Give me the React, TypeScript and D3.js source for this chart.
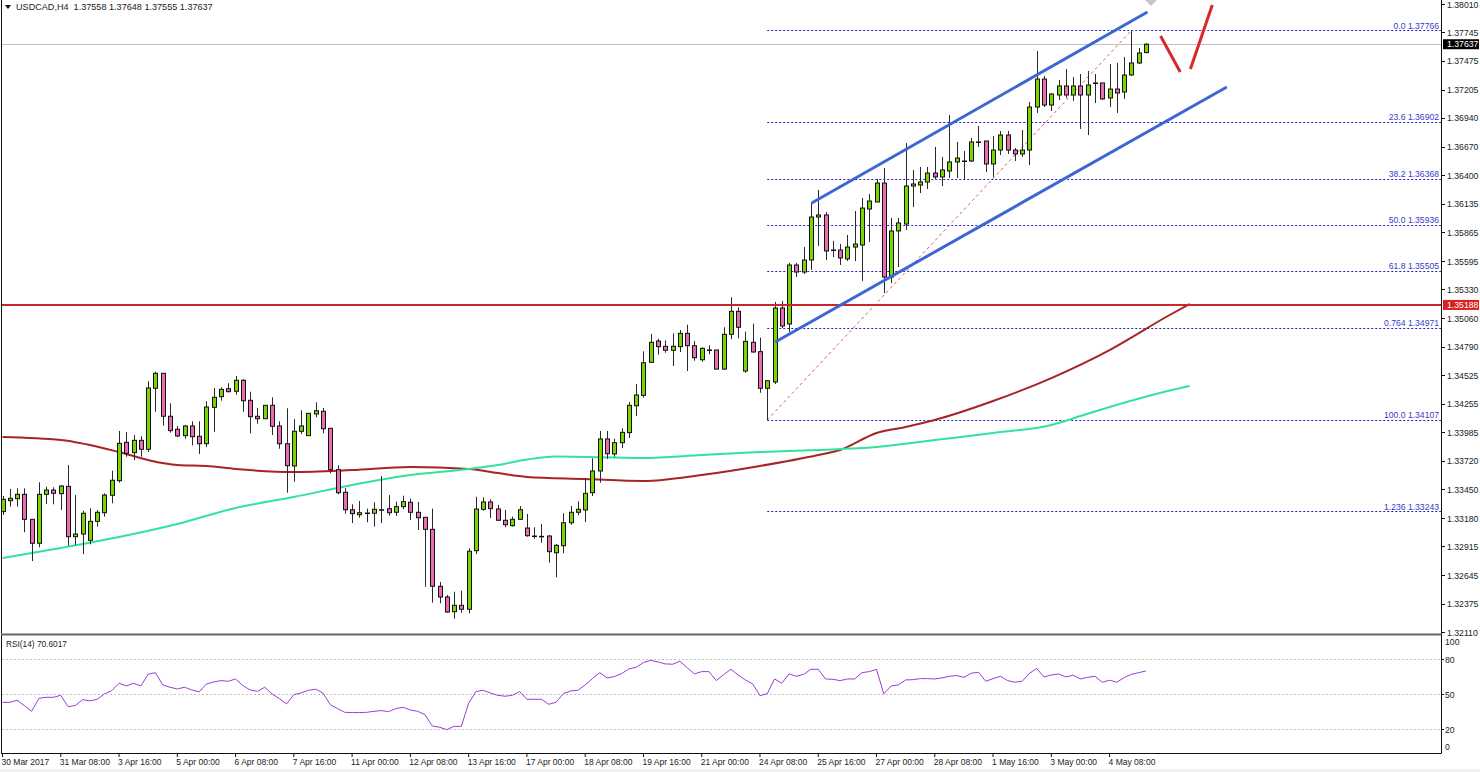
import React from "react";
import * as d3 from "d3";

const opens = [
1.33246,1.33349,1.33368,1.33409,1.33174,1.32949,1.33409,1.33449,1.33415,1.33484,
1.33011,1.33036,1.32977,1.33155,1.33236,1.33400,1.33537,1.33897,1.33800,1.33916,
1.33832,1.34405,1.34546,1.34142,1.34020,1.33960,1.34051,1.33954,1.33884,1.34226,
1.34326,1.34401,1.34377,1.34480,1.34292,1.34142,1.34119,1.34245,1.34051,1.33884,
1.33675,1.34001,1.33960,1.34163,1.34189,1.34029,1.33640,1.33428,1.33264,1.33217,
1.33233,1.33231,1.33264,1.33274,1.33240,1.33293,1.33334,1.33240,1.33193,1.33080,
1.32545,1.32444,1.32306,1.32366,1.32329,1.32879,1.33268,1.33337,1.33271,1.33165,
1.33114,1.33174,1.33092,1.33017,1.33014,1.33017,1.32860,1.32926,1.33142,1.33240,
1.33262,1.33424,1.33628,1.33929,1.33788,1.33894,1.33988,1.34241,1.34339,1.34649,
1.34849,1.34799,1.34762,1.34796,1.34921,1.34805,1.34673,1.34765,1.34765,1.34585,
1.34912,1.35128,1.34567,1.34837,1.34749,1.34405,1.34464,1.35159,1.35009,1.35563,
1.35497,1.35610,1.36014,1.36033,1.35704,1.35704,1.35620,1.35732,1.35751,1.36089,
1.36155,1.36333,1.35450,1.35883,1.35948,1.36305,1.36315,1.36343,1.36427,1.36390,
1.36446,1.36531,1.36540,1.36540,1.36719,1.36728,1.36512,1.36643,1.36784,1.36643,
1.36606,1.36643,1.37047,1.37310,1.37066,1.37160,1.37245,1.37160,1.37245,1.37160,
1.37273,1.37273,1.37132,1.37216,1.37188,1.37348,1.37461,1.37558];

const closes = [
1.33362,1.33371,1.33409,1.33174,1.32949,1.33409,1.33449,1.33418,1.33487,1.33011,
1.33036,1.33231,1.33155,1.33240,1.33402,1.33541,1.33888,1.33794,1.33916,1.33832,
1.34408,1.34546,1.34142,1.34007,1.33957,1.34051,1.33950,1.33884,1.34229,1.34320,
1.34395,1.34373,1.34480,1.34288,1.34138,1.34119,1.34245,1.34048,1.33884,1.33678,
1.34001,1.34051,1.34170,1.34194,1.34025,1.33640,1.33424,1.33264,1.33227,1.33236,
1.33231,1.33268,1.33262,1.33236,1.33293,1.33340,1.33240,1.33189,1.33080,1.32545,
1.32444,1.32303,1.32366,1.32329,1.32874,1.33271,1.33337,1.33274,1.33165,1.33123,
1.33174,1.33264,1.33020,1.33014,1.33012,1.32870,1.32930,1.33142,1.33240,1.33268,
1.33418,1.33628,1.33929,1.33790,1.33894,1.33991,1.34245,1.34342,1.34645,1.34837,
1.34796,1.34762,1.34799,1.34921,1.34805,1.34692,1.34780,1.34762,1.34585,1.34912,
1.35128,1.34978,1.34846,1.34746,1.34405,1.34476,1.35159,1.34990,1.35563,1.35497,
1.35610,1.36014,1.36033,1.35695,1.35702,1.35629,1.35732,1.35760,1.36098,1.36164,
1.36333,1.35450,1.35883,1.35958,1.36305,1.36324,1.36343,1.36427,1.36390,1.36456,
1.36531,1.36568,1.36538,1.36719,1.36717,1.36512,1.36643,1.36784,1.36643,1.36606,
1.36643,1.37047,1.37310,1.37066,1.37169,1.37245,1.37160,1.37245,1.37160,1.37254,
1.37270,1.37123,1.37216,1.37179,1.37348,1.37461,1.37555,1.37637];

const highs = [
1.33393,1.33459,1.33465,1.33465,1.33174,1.33522,1.33480,1.33475,1.33496,1.33684,
1.33402,1.33255,1.33278,1.33262,1.33418,1.33631,1.34004,1.33994,1.33966,1.33954,
1.34471,1.34561,1.34546,1.34264,1.34051,1.34060,1.34095,1.34095,1.34283,1.34408,
1.34414,1.34452,1.34520,1.34492,1.34373,1.34220,1.34245,1.34320,1.34095,1.34217,
1.34116,1.34198,1.34170,1.34273,1.34220,1.34029,1.33681,1.33468,1.33315,1.33346,
1.33274,1.33334,1.33581,1.33402,1.33340,1.33396,1.33368,1.33337,1.33193,1.33274,
1.32585,1.32463,1.32494,1.32503,1.32902,1.33386,1.33381,1.33362,1.33309,1.33262,
1.33199,1.33299,1.33224,1.33099,1.33130,1.33027,1.32942,1.33231,1.33299,1.33343,
1.33556,1.33747,1.34004,1.34004,1.33931,1.34029,1.34276,1.34445,1.34752,1.34915,
1.34870,1.34855,1.34921,1.34952,1.35002,1.34849,1.34790,1.34809,1.34765,1.34978,
1.35260,1.35166,1.34937,1.35012,1.34881,1.34476,1.35216,1.35225,1.35582,1.35582,
1.35732,1.36146,1.36268,1.36061,1.35789,1.35760,1.35845,1.36070,1.36192,1.36230,
1.36371,1.36474,1.36005,1.36005,1.36709,1.36456,1.36484,1.36484,1.36672,1.36578,
1.36972,1.36719,1.36634,1.36756,1.36869,1.36728,1.36775,1.36822,1.36822,1.36662,
1.36831,1.37094,1.37573,1.37339,1.37179,1.37301,1.37404,1.37329,1.37357,1.37386,
1.37357,1.37273,1.37451,1.37461,1.37517,1.37766,1.37602,1.37648];

const lows = [
1.33215,1.33293,1.33293,1.33052,1.32782,1.32911,1.33318,1.33315,1.33262,1.32926,
1.32933,1.32848,1.32939,1.33105,1.33199,1.33325,1.33518,1.33762,1.33731,1.33762,
1.33806,1.34185,1.34053,1.33988,1.33945,1.33931,1.33869,1.33788,1.33853,1.33997,
1.34288,1.34367,1.34345,1.34185,1.33982,1.34072,1.34119,1.33966,1.33837,1.33424,
1.33527,1.33975,1.33960,1.34132,1.33982,1.33606,1.33409,1.33227,1.33139,1.33189,
1.33146,1.33105,1.33139,1.33208,1.33205,1.33268,1.33168,1.33074,1.32541,1.32391,
1.32385,1.32297,1.32240,1.32297,1.32291,1.32848,1.33255,1.33186,1.33161,1.33099,
1.33105,1.33168,1.33011,1.32992,1.32954,1.32766,1.32629,1.32855,1.33123,1.33212,
1.33149,1.33393,1.33518,1.33741,1.33762,1.33844,1.33938,1.34145,1.34317,1.34645,
1.34720,1.34739,1.34614,1.34745,1.34567,1.34664,1.34655,1.34724,1.34585,1.34577,
1.34865,1.34875,1.34551,1.34737,1.34363,1.34107,1.34445,1.34971,1.34934,1.35450,
1.35478,1.35516,1.35742,1.35610,1.35638,1.35563,1.35600,1.35600,1.35413,1.35779,
1.36155,1.35300,1.35394,1.35544,1.35892,1.36108,1.36239,1.36277,1.36371,1.36305,
1.36380,1.36380,1.36371,1.36531,1.36672,1.36437,1.36390,1.36596,1.36606,1.36540,
1.36578,1.36502,1.36991,1.37047,1.37010,1.37113,1.37132,1.37104,1.36841,1.36784,
1.37085,1.37113,1.37047,1.36991,1.37123,1.37339,1.37451,1.37555];

const rsiValues = [
43.7,43.7,45.4,40.9,36,47.1,48,48,49.7,40,
40.9,46,44.9,46.3,50.9,53.7,60,57.7,60,57.7,
67.7,69.1,58.6,56.6,55.1,56.6,54.3,52.6,59.4,61.1,
62.3,61.7,63.7,58,54.3,53.1,56.6,50.9,46.9,42.3,
50.3,51.7,54,54.9,51.7,41.7,38.3,35.1,34.9,34.9,
35.1,36,36.6,35.7,38.3,39.4,37.1,36,33.1,23.4,
22.3,20.3,23.1,23.1,42.9,52.9,54,51.7,49.7,48.9,
49.7,52.9,46.3,46.3,46.3,42,43.7,51.1,53.4,54,
58.6,64,69.1,64.6,65.7,68.3,72.3,73.7,77.7,79.7,
78.3,76.6,76.3,78.9,73.4,68,70,70,62.3,67.4,
72,67.1,62.9,59.4,49.4,51.1,63.7,60,68,66,
67.7,72,72,63.7,63.4,62.3,63.7,63.7,69.1,70,
72,50.9,57.7,58.6,62.9,63.1,64,64,63.7,64.6,
66,66.6,65.1,68.6,69.4,61.7,64,66,62.3,60.9,
61.7,68.6,72.6,65.4,67.1,68,65.4,66.9,63.7,65.1,
66,60.9,62.6,60.9,64.9,67.7,69.1,70.6];

const redMaBars = [0,8,16,20,24,28,32,40,48,56,64,68,72,80,88,96,104,112,115,120,124,128,136,144,152,160,163];
const redMaPrices = [1.33947,1.33919,1.33806,1.33731,1.33684,1.33675,1.33647,1.33618,1.33637,1.33665,1.33647,1.33609,1.33572,1.33553,1.33534,1.33590,1.33675,1.33778,1.33825,1.33985,1.34041,1.34107,1.34285,1.34501,1.34764,1.35084,1.35197];
const greenMaBars = [0,8,16,24,32,40,48,56,64,68,72,76,88,96,104,112,120,128,136,144,148,152,160,163];
const greenMaPrices = [1.32811,1.32905,1.33008,1.33130,1.33281,1.33384,1.33496,1.33590,1.33647,1.33684,1.33736,1.33764,1.33750,1.33778,1.33806,1.33825,1.33853,1.33919,1.33985,1.34060,1.34145,1.34229,1.34379,1.34426];

const priceTicks = ["1.38010","1.37745","1.37475","1.37205","1.36940","1.36670","1.36400","1.36135","1.35865","1.35595","1.35330","1.35060","1.34790","1.34525","1.34255","1.33985","1.33720","1.33450","1.33180","1.32915","1.32645","1.32375","1.32110"];
const timeTicks = ["30 Mar 2017","31 Mar 08:00","3 Apr 16:00","5 Apr 00:00","6 Apr 08:00","7 Apr 16:00","11 Apr 00:00","12 Apr 08:00","13 Apr 16:00","17 Apr 00:00","18 Apr 08:00","19 Apr 16:00","21 Apr 00:00","24 Apr 08:00","25 Apr 16:00","27 Apr 00:00","28 Apr 08:00","1 May 16:00","3 May 00:00","4 May 08:00"];
const rsiTicks = [100,80,50,20,0];
const rsiLevels = [80,50,20];
const fibRatios = ["0.0","23.6","38.2","50.0","61.8","0.764","100.0","1.236"];
const fibPrices = [1.37766,1.36902,1.36368,1.35936,1.35505,1.34971,1.34107,1.33243];

const channelUpperBars = [111.1,157.2];
const channelUpperPrices = [1.36146,1.37940];
const channelLowerBars = [106.1,168.1];
const channelLowerPrices = [1.34840,1.37235];
const zigBars = [159,161.7];
const zigPrices = [1.37714,1.37376];
const zagBars = [163.1,166.1];
const zagPrices = [1.37404,1.38006];
const supportPrice = 1.35188;
const lastPrice = 1.37637;

const FONT = "'Liberation Sans', Arial, sans-serif";

export default function App() {
  const x = d3.scaleLinear().domain([0, 157]).range([2.5, 1146]);
  const y = d3.scaleLinear().domain([1.37766, 1.34107]).range([30.5, 420]);
  const ry = d3.scaleLinear().domain([0, 100]).range([753.3, 636.6]);
  const right = 1441.5;

  const seg = (bars: number[], prices: number[]) =>
    d3.line<number>().x((b) => x(b)).y((_, i) => y(prices[i]))(bars) as string;
  const rsiPath = d3.line<number>().x((_, i) => x(i)).y((v) => ry(v))(rsiValues) as string;
  const barsOf = d3.range(opens.length);
  const snap = (v: number) => Math.floor(v) + 0.5;

  return (
    <svg width={1480} height={772} style={{ position: "absolute", left: 0, top: 0, background: "#fff" }} fontFamily={FONT}>
      <rect x={0} y={769} width={1480} height={3} fill="#f0f0f0" />

      {/* bid line */}
      <line x1={2} x2={right} y1={snap(y(lastPrice))} y2={snap(y(lastPrice))} stroke="#c0c0c0" />

      {/* RSI levels */}
      {rsiLevels.map((l) => (
        <line key={l} x1={2} x2={right} y1={snap(ry(l))} y2={snap(ry(l))} stroke="#c4c4c4" strokeDasharray="2 2" />
      ))}

      {/* Fibonacci */}
      {fibPrices.map((p, i) => (
        <g key={p}>
          <line x1={x(105)} x2={right} y1={snap(y(p))} y2={snap(y(p))} stroke="#1f1fc0" strokeDasharray="2 2" />
          <text x={1439} y={y(p) - 2} textAnchor="end" fontSize={8.6} fill="#3a3ac8">{fibRatios[i]} {p.toFixed(5)}</text>
        </g>
      ))}
      <path d={seg([105, 155], [1.34107, 1.37766])} stroke="#e25a5a" strokeDasharray="3 3" fill="none" />

      {/* Moving averages */}
      <path d={d3.line<number>().x((b) => x(b)).y((_, i) => y(redMaPrices[i])).curve(d3.curveMonotoneX)(redMaBars) as string} fill="none" stroke="#a82424" strokeWidth={2} />
      <path d={d3.line<number>().x((b) => x(b)).y((_, i) => y(greenMaPrices[i])).curve(d3.curveMonotoneX)(greenMaBars) as string} fill="none" stroke="#34e2a0" strokeWidth={2} />

      {/* Candles */}
      {barsOf.map((i) => {
        const up = closes[i] >= opens[i];
        const top = y(Math.max(opens[i], closes[i]));
        const bot = y(Math.min(opens[i], closes[i]));
        const cx = Math.round(x(i)) + 0.5;
        return (
          <g key={i}>
            <line x1={cx} x2={cx} y1={y(highs[i])} y2={y(lows[i])} stroke="#2a2a2a" />
            <rect x={cx - 2} y={top} width={4} height={Math.max(bot - top, 0.5)} fill={up ? "#7ad600" : "#ea6cb0"} stroke="#111" strokeWidth={1} />
          </g>
        );
      })}

      {/* Support */}
      <line x1={2} x2={right} y1={y(supportPrice)} y2={y(supportPrice)} stroke="#c6282c" strokeWidth={2} />

      {/* Channel */}
      <path d={seg(channelUpperBars, channelUpperPrices)} stroke="#3c66d4" strokeWidth={3} fill="none" />
      <path d={seg(channelLowerBars, channelLowerPrices)} stroke="#3c66d4" strokeWidth={3} fill="none" />

      {/* Projected path */}
      <path d={seg(zigBars, zigPrices)} stroke="#d8282c" strokeWidth={3} fill="none" />
      <path d={seg(zagBars, zagPrices)} stroke="#d8282c" strokeWidth={3} fill="none" />
      <polygon points="1145,0 1157,0 1151,6" fill="#c8c8c8" />

      {/* Frame */}
      <line x1={1.5} x2={1.5} y1={0} y2={753} stroke="#111" />
      <line x1={right} x2={right} y1={0} y2={753} stroke="#111" />
      <line x1={1} x2={right} y1={634.5} y2={634.5} stroke="#666" strokeWidth={2} />
      <line x1={1} x2={right} y1={753.5} y2={753.5} stroke="#111" />

      {/* Price axis */}
      {priceTicks.map((t) => (
        <g key={t}>
          <line x1={right} x2={1445} y1={snap(y(+t))} y2={snap(y(+t))} stroke="#111" />
          <text x={1447} y={y(+t) + 3} fontSize={8.7} fill="#222">{t}</text>
        </g>
      ))}
      <rect x={1443} y={y(lastPrice) - 5} width={36} height={10} fill="#000" />
      <text x={1447} y={y(lastPrice) + 3} fontSize={8.7} fill="#fff">{lastPrice.toFixed(5)}</text>
      <rect x={1443} y={y(supportPrice) - 5} width={36} height={10} fill="#d8201f" />
      <text x={1447} y={y(supportPrice) + 3} fontSize={8.7} fill="#fff">{supportPrice.toFixed(5)}</text>

      {/* RSI */}
      <path d={rsiPath} fill="none" stroke="#9a3fd0" strokeWidth={1} />
      <text x={6} y={647} fontSize={8.3} fill="#222">RSI(14) 70.6017</text>
      {rsiTicks.map((t) => (
        <g key={t}>
          {rsiLevels.includes(t) && <line x1={right} x2={1444} y1={snap(ry(t))} y2={snap(ry(t))} stroke="#111" />}
          <text x={1445} y={t === 100 ? 645 : t === 0 ? 750 : ry(t) + 3} fontSize={8.7} fill="#222">{t}</text>
        </g>
      ))}

      {/* Time axis */}
      {timeTicks.map((t, i) => (
        <g key={t}>
          <line x1={x(i * 8)} x2={x(i * 8)} y1={753} y2={757} stroke="#111" />
          <text x={x(i * 8) - 1} y={765} fontSize={8.5} fill="#222">{t}</text>
        </g>
      ))}

      {/* Header */}
      <polygon points="5,5 11,5 8,9" fill="#111" />
      <text x={16} y={10} fontSize={9.1} fill="#222" xmlSpace="preserve">USDCAD,H4  1.37558 1.37648 1.37555 1.37637</text>
    </svg>
  );
}
